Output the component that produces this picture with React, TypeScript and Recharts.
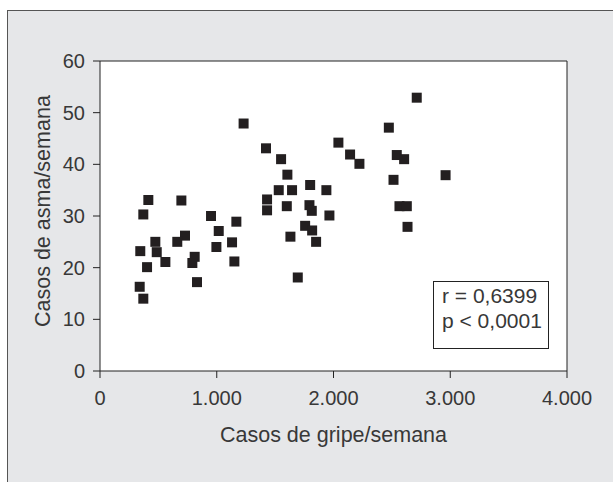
import React from 'react';
import {
  ScatterChart,
  Scatter,
  XAxis,
  YAxis,
  ZAxis,
  CartesianGrid,
  ReferenceLine,
} from 'recharts';

// casos de gripe por semana (x) e casos de asma por semana (y)
const fluCases = [
  1230, 414, 697, 371, 951, 1168, 1017, 728, 474, 662, 1131, 345, 486, 997, 811, 560, 791, 1151,
  403, 831, 340, 371,
  2713, 2474, 2042, 1422, 2142, 2542, 2605, 1551, 2222, 1605, 2514, 1800, 1531, 1645, 1939, 1431,
  1431, 1600, 1794, 1814, 1965, 2565, 2628, 2634, 1757, 1817, 1631, 1851, 1694, 2960,
];
const asthmaCases = [
  47.9, 33.1, 33.0, 30.3, 30.0, 28.9, 27.1, 26.2, 25.0, 25.0, 24.9, 23.2, 23.0, 24.0, 22.1, 21.1,
  20.9, 21.2, 20.1, 17.2, 16.3, 14.0,
  52.9, 47.1, 44.2, 43.1, 41.9, 41.8, 41.0, 41.0, 40.1, 38.0, 37.0, 36.0, 35.0, 35.0, 35.0, 33.2,
  31.1, 31.9, 32.1, 31.0, 30.1, 31.9, 31.9, 27.9, 28.1, 27.2, 26.0, 25.0, 18.1, 37.9,
];
const xTicks = [0, 1000, 2000, 3000, 4000];
const yTicks = [0, 10, 20, 30, 40, 50, 60];
const statLines = ['r = 0,6399', 'p < 0,0001'];

const points = fluCases.map((x, i) => ({ x, y: asthmaCases[i] }));

const font = '"Liberation Sans", Arial, sans-serif';
const textColor = '#383838';

const formatThousands = (v: number) =>
  v === 0 ? '0' : `${Math.floor(v / 1000)}.${String(v % 1000).padStart(3, '0')}`;

export default function App() {
  return (
    <div style={{ position: 'absolute', left: 0, top: 0, width: 613, height: 482, overflow: 'hidden' }}>
      <div
        style={{
          position: 'absolute',
          left: 7,
          top: 10,
          width: 640,
          height: 500,
          background: '#e6e7e9',
          border: '1px solid #555',
        }}
      />
      <div style={{ position: 'absolute', left: 0, top: 0 }}>
        <ScatterChart
          width={613}
          height={482}
          margin={{ top: 61, right: 46, bottom: 71, left: 0 }}
          style={{ fontFamily: font }}
        >
          <CartesianGrid horizontal={false} vertical={false} fill="#fff" />
          <XAxis
            type="number"
            dataKey="x"
            domain={[0, 4000]}
            ticks={xTicks}
            tickFormatter={formatThousands}
            height={40}
            tickSize={7}
            tickMargin={13}
            stroke="#222"
            tick={{ fill: textColor, fontSize: 20 }}
            label={{
              value: 'Casos de gripe/semana',
              position: 'bottom',
              offset: 0,
              dy: 16,
              fill: textColor,
              fontSize: 21.5,
            }}
          />
          <YAxis
            type="number"
            dataKey="y"
            domain={[0, 60]}
            ticks={yTicks}
            width={100}
            tickSize={7}
            tickMargin={8}
            stroke="#222"
            tick={{ fill: textColor, fontSize: 20 }}
            label={{
              value: 'Casos de asma/semana',
              angle: -90,
              position: 'insideLeft',
              offset: 42,
              dy: 111,
              fill: textColor,
              fontSize: 21.5,
            }}
          />
          <ZAxis range={[100, 100]} />
          <ReferenceLine y={60} stroke="#222" strokeWidth={1} ifOverflow="extendDomain" />
          <ReferenceLine x={4000} stroke="#222" strokeWidth={1} ifOverflow="extendDomain" />
          <Scatter data={points} fill="#231f20" shape="square" legendType="none" isAnimationActive={false} />
        </ScatterChart>
      </div>
      <div
        style={{
          position: 'absolute',
          left: 433,
          top: 281,
          width: 116,
          height: 68,
          border: '1px solid #222',
          background: '#fff',
          boxSizing: 'border-box',
          padding: '1px 0 0 8px',
          fontFamily: font,
          fontSize: 21,
          lineHeight: '25px',
          color: textColor,
          whiteSpace: 'nowrap',
        }}
      >
        {statLines.map((s) => (
          <div key={s}>{s}</div>
        ))}
      </div>
    </div>
  );
}
